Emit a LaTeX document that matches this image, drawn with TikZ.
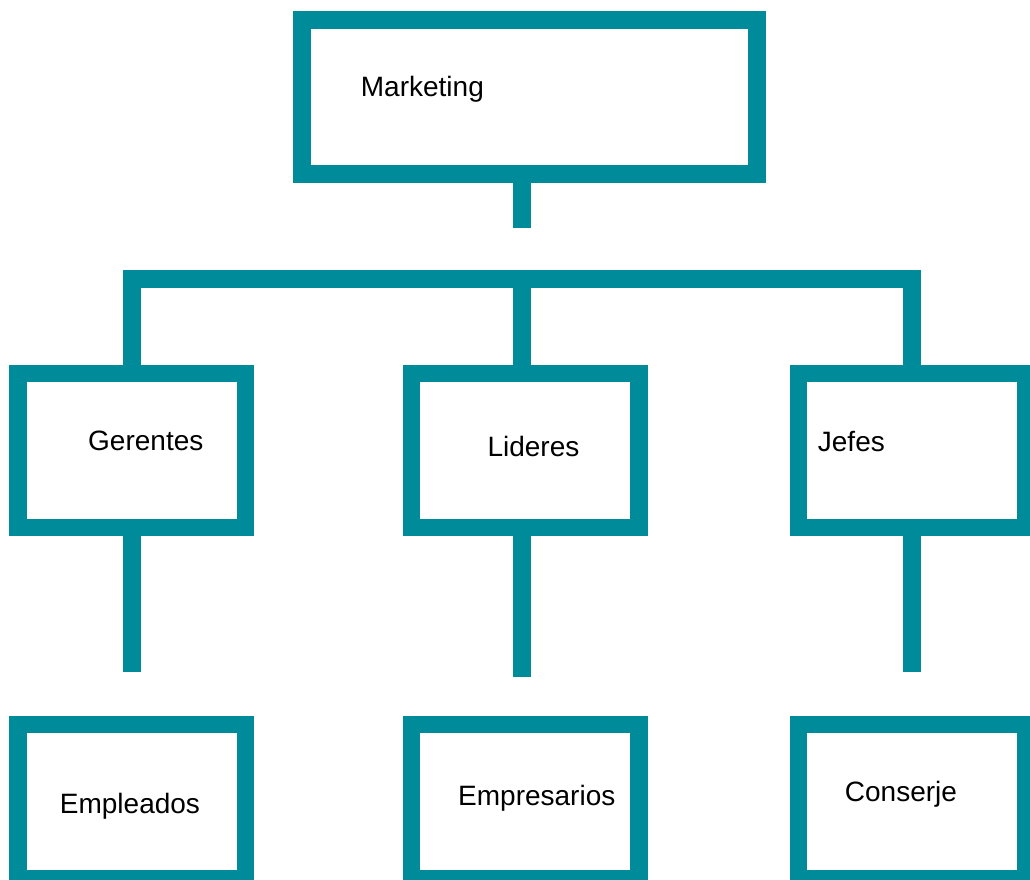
\documentclass[tikz,border=0pt]{standalone}
\usepackage{fontspec}
\setmainfont{Liberation Sans}
\usepackage{tikz}

\definecolor{boxteal}{RGB}{0,139,154}
\tikzset{
  orgbox/.style={draw=boxteal, line width=17.4pt, minimum width=227.5pt, minimum height=154.4pt, inner sep=0pt},
  orgline/.style={draw=boxteal, line width=17.4pt},
  orgtext/.style={anchor=base west, inner sep=0pt, font=\fontsize{28}{34}\selectfont}
}

\begin{document}
\begin{tikzpicture}[x=1pt, y=-1pt]
            \useasboundingbox (0,0) rectangle (1030,879);
            % boxes
            \node[orgbox, minimum width=455pt, minimum height=154pt] (mkt) at (529.5, 97) {};
            \node[orgbox] (ger) at (131.75, 450.5) {};
            \node[orgbox] (lid) at (525.1, 450.5) {};
            \node[orgbox] (jef) at (912, 450.5) {};
            \node[orgbox] (emp) at (131.75, 801.5) {};
            \node[orgbox] (empr) at (525.1, 801.5) {};
            \node[orgbox] (con) at (912, 801.5) {};
            % texts
            \node[orgtext] (mkt-t) at (360.7, 96.7) {Marketing};
            \node[orgtext] (ger-t) at (88, 450) {Gerentes};
            \node[orgtext] (lid-t) at (487.3, 456.7) {Lideres};
            \node[orgtext] (jef-t) at (817.7, 451.7) {Jefes};
            \node[orgtext] (emp-t) at (59.7, 813.3) {Empleados};
            \node[orgtext] (empr-t) at (458, 805.7) {Empresarios};
            \node[orgtext] (con-t) at (844.7, 801) {Conserje};
            % connectors
            \coordinate (mktend) at (522, 227.7);
            \coordinate (bar) at (522, 279);
            \coordinate (gerend) at (132, 671.7);
            \coordinate (lidend) at (522, 676.7);
            \coordinate (jefend) at (912, 671.7);
            \draw[orgline] (mktend |- mkt.south) -- (mktend);
            \draw[orgline, miter limit=10] (gerend |- ger.north) -- (gerend |- bar) -- (jefend |- bar) -- (jefend |- jef.north);
            \draw[orgline] (bar) -- (lidend |- lid.north);
            \draw[orgline] (gerend |- ger.south) -- (gerend);
            \draw[orgline] (lidend |- lid.south) -- (lidend);
            \draw[orgline] (jefend |- jef.south) -- (jefend);
        \end{tikzpicture}
\end{document}
